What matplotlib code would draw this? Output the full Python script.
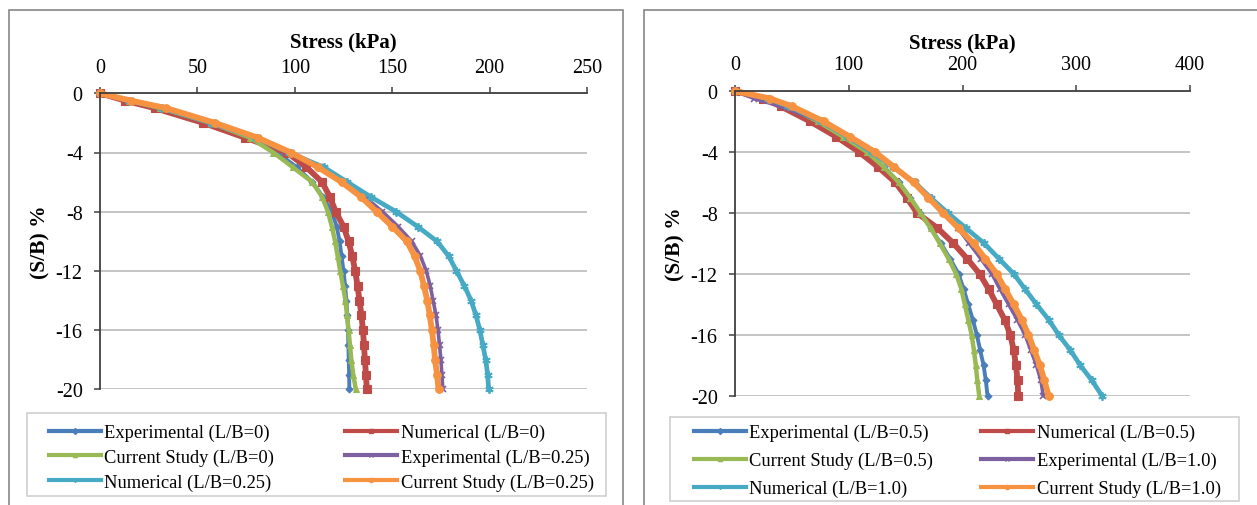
import matplotlib
matplotlib.use("Agg")
import matplotlib.pyplot as plt
from matplotlib.lines import Line2D
from matplotlib.patches import Rectangle

plt.rcParams["font.family"] = ["Liberation Serif", "DejaVu Serif"]
plt.rcParams["axes.unicode_minus"] = False

W, H = 1257, 506

# ---------------------------------------------------------------------------
# Data
# ---------------------------------------------------------------------------
SB = [0, -0.5, -1, -2, -3, -4, -5, -6, -7, -8, -9, -10,
      -11, -12, -13, -14, -15, -16, -17, -18, -19, -20]

# left chart: L/B = 0 and 0.25
EXP_0 = [0, 15, 31, 56, 78, 91, 101, 109, 114.5, 119, 121.5, 123,
         124, 125, 125.8, 126.5, 127, 127.3, 127.5, 127.7, 127.9, 128]
NUM_0 = [0, 13, 28, 53, 74.5, 96, 106, 114, 118, 121, 125, 127.6,
         129.5, 131, 132.2, 133.2, 134.2, 135, 135.5, 136, 136.5, 137]
CS_0 = [0, 15, 31, 57, 77, 89, 99, 109, 114, 117, 119, 120.7,
        122, 123.3, 124.7, 126, 126.8, 127.6, 128.3, 129, 130, 131.3]
EXP_025 = [0, 16, 33, 58, 81, 98, 113, 125, 136, 145, 153, 160,
           164.5, 167.5, 169.5, 171, 172.5, 173.5, 174.3, 175, 175.5, 176]
NUM_025 = [0, 15, 32, 57, 80, 97, 115, 127, 139, 152, 163, 173,
           179, 183, 187, 190.5, 193, 195, 196.5, 198, 199, 199.5]
CS_025 = [0, 16, 34, 59, 81, 98, 112, 124, 134, 142, 150, 157.5,
          161.5, 164.4, 166.3, 168, 169.3, 170.4, 171.3, 172, 173, 173.8]

# right chart: L/B = 0.5 and 1.0
EXP_05 = [0, 27, 45, 72, 95, 116, 131, 144, 154, 163, 172, 181,
          189, 196.5, 201, 205, 209, 212.6, 215.5, 218.5, 220.5, 222]
NUM_05 = [0, 25, 40, 66, 89, 109, 126, 141, 151, 160, 178, 192,
          204, 215, 223, 230, 237, 242, 245, 247, 248.4, 249]
CS_05 = [0, 28, 46, 73, 95, 116, 131, 144, 154, 163, 172, 180,
         187.7, 194.4, 199, 202, 205, 208, 210, 211.7, 213, 214.7]
EXP_10 = [0, 17, 40, 76, 100, 122, 140, 158, 171, 184, 196, 206,
          216, 225.8, 233, 240.5, 248, 255, 260, 265, 268.9, 271]
NUM_10 = [0, 29, 47, 76, 99, 120, 139, 158, 172, 187, 203, 219,
          232, 245, 255, 265, 275.7, 284.5, 294.7, 303.5, 313.8, 322.6]
CS_10 = [0, 31, 50, 78, 101, 123, 140, 157, 170, 183, 196.5, 209.7,
         220, 230, 237.5, 245, 252, 258, 263, 268, 272, 275.7]

LEFT_LABELS = ["Experimental (L/B=0)", "Numerical (L/B=0)", "Current Study (L/B=0)",
               "Experimental (L/B=0.25)", "Numerical (L/B=0.25)", "Current Study (L/B=0.25)"]
RIGHT_LABELS = ["Experimental (L/B=0.5)", "Numerical (L/B=0.5)", "Current Study (L/B=0.5)",
                "Experimental (L/B=1.0)", "Numerical (L/B=1.0)", "Current Study (L/B=1.0)"]

LEFT_XTICKS = [0, 50, 100, 150, 200, 250]
RIGHT_XTICKS = [0, 100, 200, 300, 400]
YTICKS = [0, -4, -8, -12, -16, -20]

# Excel 2010 default series look; markers are dense in the original, so the
# lines are drawn thick to give the same banded look
STYLES = [
    dict(color="#4A7EBB", marker="D", ms=3.5, lw=2.8),
    dict(color="#BE4B48", marker="s", ms=5.5, lw=4.2),
    dict(color="#98B954", marker="^", ms=4.5, lw=3.2),
    dict(color="#7D60A0", marker="x", ms=4.0, lw=2.6, mew=1.2),
    dict(color="#46AAC5", marker=(6, 2, 0), ms=6.0, lw=3.4, mew=1.3),
    dict(color="#F69240", marker="o", ms=5.5, lw=4.2),
]


def fig_rect(x0, y0, x1, y1):
    """pixel box (top-left origin) -> figure fraction rect"""
    return [x0 / W, 1 - y1 / H, (x1 - x0) / W, (y1 - y0) / H]


def draw_panel(fig, rect, series, labels, xticks, legend_box, legend_text_box, label_gap):
    ax = fig.add_axes(fig_rect(*rect))
    handles = []
    for xs, lab, st in zip(series, labels, STYLES):
        ax.plot(xs, SB, lw=st["lw"], color=st["color"], marker=st["marker"], ms=st["ms"],
                mew=st.get("mew", 0.8), mec=st["color"], mfc=st["color"],
                clip_on=False, solid_capstyle="round")
        handles.append(Line2D([], [], lw=3.0, color=st["color"], marker=st["marker"],
                              ms=3.0, mew=1.0, mec=st["color"], mfc=st["color"]))

    ax.set_xlim(xticks[0], xticks[-1])
    ax.set_ylim(-20, 0)
    ax.set_xticks(xticks)
    ax.set_yticks(YTICKS)
    ax.xaxis.set_ticks_position("top")
    ax.xaxis.set_label_position("top")
    ax.tick_params(axis="x", direction="out", length=4, width=1.1, labelsize=14.5,
                   pad=8, color="#404040")
    ax.tick_params(axis="y", direction="out", length=4, width=1.1, labelsize=14.5,
                   pad=8.5, color="#404040")
    for s in ("bottom", "right"):
        ax.spines[s].set_visible(False)
    for s in ("top", "left"):
        ax.spines[s].set_color("#404040")
        ax.spines[s].set_linewidth(1.3)
    ax.grid(axis="y", color="#BFBFBF", lw=1.3)
    ax.set_axisbelow(True)
    ax.set_xlabel("Stress (kPa)", fontsize=15, fontweight="bold", labelpad=label_gap)
    ax.set_ylabel("(S/B) %", fontsize=15.5, fontweight="bold", labelpad=4)

    # legend: column-major order so rows read across as in Excel
    order = [0, 2, 4, 1, 3, 5]
    hx0, hy0, hx1, hy1, spacing = legend_text_box
    fig.legend([handles[i] for i in order], [labels[i] for i in order], ncol=2,
               loc="upper left", mode="expand", frameon=False, fontsize=13.3,
               bbox_to_anchor=(hx0 / W, 1 - hy1 / H, (hx1 - hx0) / W, (hy1 - hy0) / H),
               bbox_transform=fig.transFigure, borderpad=0, borderaxespad=0,
               handlelength=2.8, handletextpad=0.2, labelspacing=spacing)
    lx0, ly0, lx1, ly1 = legend_box
    fig.add_artist(Rectangle((lx0 / W, 1 - ly1 / H), (lx1 - lx0) / W, (ly1 - ly0) / H,
                             transform=fig.transFigure, fill=False,
                             edgecolor="#D0D0D0", lw=1.2))
    return ax


fig = plt.figure(figsize=(W / 100, H / 100), dpi=100)

# outer chart frames (bottom edges run past the picture)
for x0, x1 in [(8.5, 623), (644, 1270)]:
    fig.add_artist(Rectangle((x0 / W, -0.1), (x1 - x0) / W, 1.1 - 11 / H,
                             transform=fig.transFigure, fill=False,
                             edgecolor="#868686", lw=1.2))

draw_panel(fig, (100, 94.3, 587, 390.3),
           [EXP_0, NUM_0, CS_0, EXP_025, NUM_025, CS_025], LEFT_LABELS,
           LEFT_XTICKS, (27, 414, 606, 497), (49, 425, 594, 497, 0.4), 8)

draw_panel(fig, (735, 92, 1190, 396.7),
           [EXP_05, NUM_05, CS_05, EXP_10, NUM_10, CS_10], RIGHT_LABELS,
           RIGHT_XTICKS, (670, 418, 1239, 502), (694, 425, 1221, 502, 0.58), 6)

fig.savefig("out.png", dpi=100)
